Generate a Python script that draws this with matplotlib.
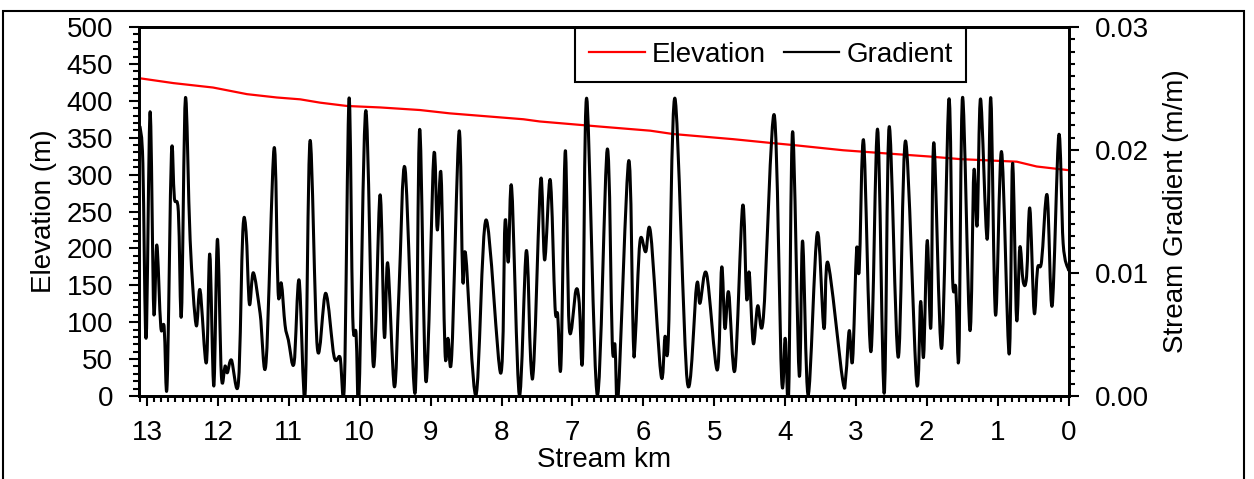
import numpy as np
import matplotlib
matplotlib.use("Agg")
import matplotlib.pyplot as plt
from matplotlib.path import Path
from matplotlib.patches import PathPatch, Rectangle
from matplotlib.lines import Line2D
from matplotlib.ticker import MultipleLocator, FormatStrFormatter

plt.rcParams['font.family'] = ['Liberation Sans', 'DejaVu Sans']

# Channel elevation along the stream (km upstream of the mouth, metres)
elev_km = [13.10, 12.63, 12.07, 11.59, 11.17, 10.84, 10.56, 10.18, 9.71, 9.15,
           8.73, 7.69, 7.46, 6.60, 5.90, 5.58, 4.73, 4.21, 3.88, 3.18,
           2.47, 1.96, 1.53, 0.73, 0.45, 0.00]
elev_m = [430.5, 424, 418, 409, 404.5, 402, 397.5, 393, 391, 387.5,
          383, 375, 372, 365, 359.5, 355, 348, 343, 340, 333,
          328, 324.5, 321, 317.5, 311, 306]

# Local stream gradient (m/m)
grad_km = [13.100, 13.060, 13.014, 12.958, 12.906, 12.863, 12.807, 12.760, 12.718, 12.657,
           12.615, 12.559, 12.516, 12.460, 12.393, 12.309, 12.253, 12.164, 12.116, 12.059,
           12.008, 11.952, 11.900, 11.868, 11.811, 11.712, 11.650, 11.604, 11.557, 11.501,
           11.406, 11.322, 11.209, 11.152, 11.106, 11.054, 11.007, 10.927, 10.856, 10.772,
           10.701, 10.598, 10.480, 10.362, 10.278, 10.217, 10.151, 10.099, 10.052, 10.010,
           9.915, 9.808, 9.714, 9.653, 9.605, 9.512, 9.446, 9.361, 9.220, 9.154,
           9.065, 8.956, 8.906, 8.853, 8.797, 8.755, 8.702, 8.599, 8.547, 8.505,
           8.360, 8.219, 8.011, 7.951, 7.904, 7.856, 7.749, 7.650, 7.588, 7.542,
           7.447, 7.391, 7.312, 7.245, 7.207, 7.161, 7.100, 7.044, 6.949, 6.903,
           6.855, 6.798, 6.649, 6.508, 6.437, 6.399, 6.353, 6.206, 6.141, 6.113,
           6.047, 5.966, 5.896, 5.750, 5.694, 5.647, 5.553, 5.379, 5.247, 5.200,
           5.106, 4.956, 4.894, 4.848, 4.795, 4.707, 4.598, 4.542, 4.505, 4.448,
           4.386, 4.305, 4.152, 4.048, 3.997, 3.949, 3.893, 3.800, 3.752, 3.673,
           3.546, 3.451, 3.395, 3.188, 3.141, 3.094, 3.047, 2.990, 2.953, 2.891,
           2.788, 2.694, 2.601, 2.530, 2.403, 2.299, 2.144, 2.087, 2.045, 1.994,
           1.942, 1.900, 1.791, 1.688, 1.636, 1.590, 1.547, 1.495, 1.392, 1.336,
           1.289, 1.241, 1.148, 1.096, 1.030, 0.945, 0.838, 0.790, 0.733, 0.687,
           0.640, 0.592, 0.546, 0.485, 0.437, 0.381, 0.302, 0.231, 0.137, 0.076,
           0.000]
grad_val = [0.02189, 0.01892, 0.00472, 0.02311, 0.00685, 0.01228, 0.00563, 0.00563, 0.00089, 0.01967,
            0.01607, 0.01498, 0.00659, 0.02420, 0.01268, 0.00577, 0.00862, 0.00271, 0.01154, 0.00081,
            0.01274, 0.00163, 0.00244, 0.00189, 0.00293, 0.00108, 0.01336, 0.01336, 0.00748, 0.01002,
            0.00672, 0.00271, 0.02014, 0.00848, 0.00916, 0.00577, 0.00455, 0.00266, 0.00943, 0.00008,
            0.02076, 0.00388, 0.00835, 0.00320, 0.00315, 0.00098, 0.02420, 0.00645, 0.00510, 0.00016,
            0.02320, 0.00244, 0.01634, 0.00482, 0.01079, 0.00076, 0.00862, 0.01851, 0.00022, 0.02168,
            0.00116, 0.01951, 0.01350, 0.01802, 0.00360, 0.00469, 0.00333, 0.02149, 0.00949, 0.01146,
            0.00008, 0.01431, 0.00185, 0.01409, 0.01092, 0.01689, 0.00008, 0.01181, 0.00287, 0.00287,
            0.01756, 0.01106, 0.01756, 0.00726, 0.00659, 0.00252, 0.01994, 0.00550, 0.00862, 0.00754,
            0.00320, 0.02420, 0.00008, 0.02006, 0.00428, 0.00415, 0.00008, 0.01911, 0.00461, 0.00461,
            0.01254, 0.01173, 0.01323, 0.00171, 0.00482, 0.00455, 0.02420, 0.00116, 0.00902, 0.00754,
            0.00992, 0.00211, 0.01046, 0.00550, 0.00843, 0.00211, 0.01545, 0.00794, 0.01002, 0.00428,
            0.00732, 0.00640, 0.02285, 0.00144, 0.00469, 0.00008, 0.02149, 0.00171, 0.01260, 0.00008,
            0.01323, 0.00550, 0.01084, 0.00136, 0.00171, 0.00531, 0.00287, 0.01193, 0.01024, 0.02076,
            0.00360, 0.02168, 0.00022, 0.02189, 0.00315, 0.02073, 0.00116, 0.00767, 0.00320, 0.01263,
            0.00563, 0.02059, 0.00388, 0.02412, 0.00957, 0.00876, 0.00325, 0.02428, 0.00537, 0.01824,
            0.01390, 0.02415, 0.01274, 0.02420, 0.00659, 0.01986, 0.00341, 0.01892, 0.00624, 0.01209,
            0.00929, 0.00970, 0.01526, 0.00680, 0.01038, 0.01092, 0.01634, 0.00734, 0.02122, 0.01241,
            0.01024]

x_ticks = [13, 12, 11, 10, 9, 8, 7, 6, 5, 4, 3, 2, 1, 0]
font_size = 20


def smoothed_path(xs, ys):
    """Bezier path through every point (Catmull-Rom style smoothing)."""
    pts = np.column_stack([xs, ys]).astype(float)
    n = len(pts)
    verts = [pts[0]]
    codes = [Path.MOVETO]
    for i in range(n - 1):
        p0 = pts[i - 1] if i > 0 else pts[i]
        p1 = pts[i]
        p2 = pts[i + 1]
        p3 = pts[i + 2] if i + 2 < n else pts[i + 1]
        verts += [p1 + (p2 - p0) / 6.0, p2 - (p3 - p1) / 6.0, p2]
        codes += [Path.CURVE4] * 3
    return Path(verts, codes)


fig = plt.figure(figsize=(12.54, 4.79), dpi=100)
ax = fig.add_axes([0.1111, 0.1733, 0.7410, 0.7703])
ax2 = ax.twinx()

# Elevation profile (left axis)
ax.plot(elev_km, elev_m, color='#ff0000', lw=1.6, zorder=3)
ax.set_xlim(13.11, 0)
ax.set_ylim(0, 500)
ax.xaxis.set_major_locator(MultipleLocator(1))
ax.xaxis.set_minor_locator(MultipleLocator(0.1))
ax.yaxis.set_major_locator(MultipleLocator(50))
ax.yaxis.set_minor_locator(MultipleLocator(10))
ax.set_xticks(x_ticks)
ax.set_xticklabels([str(t) for t in x_ticks])

# Gradient profile (right axis), drawn as a smoothed curve
ax2.set_ylim(0, 0.03)
ax2.yaxis.set_major_locator(MultipleLocator(0.01))
ax2.yaxis.set_minor_locator(MultipleLocator(0.001))
ax2.yaxis.set_major_formatter(FormatStrFormatter('%.2f'))
ax2.add_patch(PathPatch(smoothed_path(grad_km, grad_val), facecolor='none',
                        edgecolor='black', lw=2.2, capstyle='round', joinstyle='round'))

for a in (ax, ax2):
    for sp in a.spines.values():
        sp.set_linewidth(2.0)
        sp.set_color('black')

ax.tick_params(axis='both', which='both', direction='out', width=1.5, colors='black',
               labelsize=font_size)
ax.tick_params(axis='both', which='major', length=7)
ax.tick_params(axis='both', which='minor', length=4.5)
ax.tick_params(axis='y', pad=12)
ax.tick_params(axis='x', pad=10)
ax2.tick_params(axis='y', which='both', direction='out', width=1.5, labelsize=font_size)
ax2.tick_params(axis='y', which='major', length=7, pad=12)
ax2.tick_params(axis='y', which='minor', length=4.5)

ax.set_xlabel('Stream km', fontsize=font_size, labelpad=1)
ax.set_ylabel('Elevation (m)', fontsize=font_size, labelpad=7)
ax2.set_ylabel('Stream Gradient (m/m)', fontsize=font_size, labelpad=10)

handles = [Line2D([], [], color='#ff0000', lw=1.6),
           Line2D([], [], color='black', lw=1.6)]
leg = ax2.legend(handles, ['Elevation', 'Gradient'], ncol=2, loc='upper right',
                 bbox_to_anchor=(0.89, 0.997), borderaxespad=0, fontsize=font_size,
                 frameon=True, fancybox=False, framealpha=1, edgecolor='black',
                 handlelength=2.0, handletextpad=0.25, columnspacing=0.65,
                 borderpad=0.5)
leg.get_frame().set_linewidth(1.5)

# Outer frame around the whole figure
fig.patches.append(Rectangle((0.0024, -0.02), 0.9900, 0.9970, transform=fig.transFigure,
                             fill=False, edgecolor='black', lw=1.5))

fig.savefig('out.png', dpi=100)
